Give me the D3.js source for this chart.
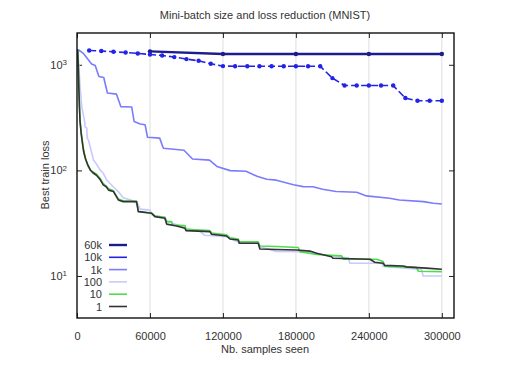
<!DOCTYPE html>
<html>
<head>
<meta charset="utf-8">
<script src="https://cdn.jsdelivr.net/npm/d3@7/dist/d3.min.js"></script>
<style>
  body { margin: 0; background: #fff; }
  text { font-family: "Liberation Sans", Arial, sans-serif; fill: #333; }
</style>
</head>
<body>
<script>
// Mini-batch size vs best train loss, log y axis

var xTicks = [0, 60000, 120000, 180000, 240000, 300000];
var yTicks = [10, 100, 1000];

// each series: [samples seen, best train loss]
var batch60k = [[60000, 1340], [120000, 1265], [180000, 1265], [240000, 1265], [300000, 1265]];

var batch10k = [[10000, 1366], [20000, 1349], [30000, 1328], [40000, 1308], [50000, 1280],
  [60000, 1252], [70000, 1225], [80000, 1183], [90000, 1132], [100000, 1091],
  [110000, 1022], [120000, 972], [130000, 968], [140000, 968], [150000, 968],
  [160000, 968], [170000, 968], [180000, 968], [190000, 968], [200000, 968],
  [210000, 748], [220000, 636], [230000, 636], [240000, 636], [250000, 636],
  [260000, 636], [270000, 484], [280000, 456], [290000, 456], [300000, 456]];

var batch1k = [[1000, 1388], [5000, 1290], [12000, 1015], [15000, 985], [18000, 775],
  [22000, 758], [25000, 540], [32500, 527], [36000, 402], [45000, 398], [47000, 290],
  [52000, 275], [56000, 270], [58000, 206], [68000, 202], [71000, 162], [88000, 155],
  [95000, 128], [109000, 125], [115000, 109], [126000, 99.5], [139000, 98], [148000, 88],
  [156000, 82.5], [164000, 80.8], [178000, 73], [186000, 70.2], [194000, 70],
  [202000, 66.3], [213000, 63], [230000, 62], [238000, 57.3], [257000, 54.5],
  [265000, 52.5], [285000, 50.6], [293000, 48.8], [300000, 48]];

var batch100 = [[500, 1400], [1500, 1000], [2500, 622], [3900, 402], [6500, 282],
  [6600, 260], [8000, 251], [8500, 200], [9300, 195], [10700, 170], [12100, 146],
  [13400, 126], [16000, 115], [18900, 101], [21600, 94], [24400, 81], [29800, 70],
  [33900, 63], [38000, 55], [45000, 52], [50000, 48], [52000, 43], [60000, 42],
  [62000, 37.5], [72000, 36], [74000, 33], [88000, 29], [90000, 28], [100000, 27],
  [105000, 24.3], [115000, 24], [123000, 23.5], [126000, 22.5], [133000, 21],
  [149000, 20.5], [151000, 18.8], [164000, 17.1], [183000, 17.0], [197000, 16.4],
  [209000, 15.4], [223000, 14.9], [224400, 13.2], [250400, 13.2], [251700, 12.3],
  [283300, 11.5], [284600, 10.0], [300000, 10.0]];

var batch10 = [[500, 1400], [1000, 1050], [1500, 650], [2000, 420], [2500, 300],
  [3500, 225], [4500, 185], [5500, 155], [7000, 130], [9000, 110], [11000, 100],
  [13000, 97], [16000, 92], [19000, 84], [21600, 75], [24000, 71], [26000, 67],
  [30000, 64], [34000, 53.5], [38000, 51.5], [49000, 51], [50400, 41], [61400, 39.3],
  [64100, 37], [72300, 36], [73700, 32.7], [77800, 32.7], [78500, 30.4], [88800, 30],
  [89600, 27.7], [109300, 26.9], [110700, 25.5], [123000, 24.5], [125800, 23],
  [132600, 22.4], [133400, 21.1], [149000, 21.1], [150400, 19.2], [164100, 19],
  [181900, 18.6], [183300, 17.0], [197000, 16.0], [217600, 15.5], [218900, 14.4],
  [246300, 14.4], [251700, 13.7], [253100, 12.4], [279200, 12.0], [280600, 11.1],
  [300000, 11.0]];

var batch1 = [[500, 1400], [1000, 1000], [1500, 600], [2000, 400], [2500, 290],
  [3500, 220], [4500, 180], [5500, 150], [7000, 128], [9000, 112], [11000, 101],
  [13000, 95], [16000, 90], [19000, 82], [21600, 73], [24000, 70], [26000, 65],
  [30000, 63], [34000, 52.5], [38000, 50.6], [49000, 50.6], [50400, 40.7],
  [61400, 39.3], [64100, 36.5], [72300, 35.2], [73700, 31], [81900, 29.7],
  [88800, 28.3], [89600, 26.9], [109300, 26.3], [110700, 24.8], [123000, 23.9],
  [125800, 22.4], [132600, 21.9], [133400, 20.4], [149000, 20.4], [150400, 18.0],
  [164100, 17.8], [180600, 17.6], [191500, 17.2], [197000, 16.4], [209300, 15.2],
  [210600, 14.7], [240800, 14.4], [244900, 13.5], [251700, 13.2], [253100, 12.6],
  [268200, 12.45], [270900, 12.2], [290100, 11.8], [300000, 11.57]];

var seriesNames = ["60k", "10k", "1k", "100", "10", "1"];
var seriesData = [batch60k, batch10k, batch1k, batch100, batch10, batch1];
var seriesColors = ["#1c1c8c", "#2323e8", "#7b7bff", "#c9c9ff", "#4fdc4f", "#333333"];

var width = 516, height = 373;
var plot = {left: 77, right: 454, top: 33, bottom: 318};

var svg = d3.select("body").append("svg")
    .attr("width", width)
    .attr("height", height);

var x = d3.scaleLinear().domain([0, 310000]).range([plot.left, plot.right]);
var y = d3.scaleLog().domain([4, 2000]).range([plot.bottom, plot.top]);

// vertical grid
svg.append("g").selectAll("line")
    .data(xTicks.slice(1))
    .enter().append("line")
    .attr("x1", function(d) { return x(d); })
    .attr("x2", function(d) { return x(d); })
    .attr("y1", plot.top)
    .attr("y2", plot.bottom)
    .style("stroke", "#e6e6e6")
    .style("stroke-width", 1.3);

// axes (ticks pointing inward)
var xAxis = svg.append("g")
    .attr("transform", "translate(0," + plot.bottom + ")")
    .call(d3.axisBottom(x).tickValues(xTicks).tickSize(-5).tickPadding(14).tickFormat(d3.format("d")));
svg.append("g")
    .attr("transform", "translate(0," + plot.top + ")")
    .call(d3.axisTop(x).tickValues(xTicks).tickSize(-5).tickFormat(""));
var yAxis = svg.append("g")
    .attr("transform", "translate(" + plot.left + ",0)")
    .call(d3.axisLeft(y).tickValues(yTicks).tickSize(-5).tickPadding(10));
svg.append("g")
    .attr("transform", "translate(" + plot.right + ",0)")
    .call(d3.axisRight(y).tickValues(yTicks).tickSize(-5).tickFormat(""));

svg.selectAll(".domain").remove();
svg.selectAll(".tick line").style("stroke", "#222").style("stroke-width", 1);
svg.selectAll(".tick text").style("font-size", "11px").style("fill", "#333")
    .style("font-family", "'Liberation Sans', Arial, sans-serif");

// 10^n labels with superscript
yAxis.selectAll(".tick text").each(function(d) {
  var t = d3.select(this).text("");
  t.append("tspan").text("10");
  t.append("tspan").attr("dy", "-0.45em").style("font-size", "8px").text(Math.round(Math.log10(d)));
});

var line = d3.line()
    .x(function(d) { return x(d[0]); })
    .y(function(d) { return y(d[1]); });

var clip = svg.append("clipPath").attr("id", "clip").append("rect")
    .attr("x", plot.left).attr("y", plot.top)
    .attr("width", plot.right - plot.left).attr("height", plot.bottom - plot.top);

var g = svg.append("g").attr("clip-path", "url(#clip)");

seriesData.forEach(function(data, i) {
  var path = g.append("path")
      .datum(data)
      .attr("d", line)
      .style("fill", "none")
      .style("stroke", seriesColors[i])
      .style("stroke-width", i === 0 ? 2.4 : 1.6)
      .style("stroke-linejoin", "round");
  if (i === 1) path.style("stroke-dasharray", "7,3");
  if (i < 2) {
    g.selectAll(".pt" + i)
        .data(data)
        .enter().append("circle")
        .attr("cx", function(d) { return x(d[0]); })
        .attr("cy", function(d) { return y(d[1]); })
        .attr("r", 2.2)
        .style("fill", seriesColors[i]);
  }
});

// legend
var legend = svg.append("g");
seriesNames.forEach(function(name, i) {
  var ly = 245 + i * 12.3;
  legend.append("text")
      .attr("x", 102)
      .attr("y", ly + 4)
      .style("text-anchor", "end")
      .style("font-size", "11px")
      .text(name);
  legend.append("line")
      .attr("x1", 109).attr("x2", 127)
      .attr("y1", ly).attr("y2", ly)
      .style("stroke", seriesColors[i])
      .style("stroke-width", i === 0 ? 2.4 : 1.6);
});

// frame
svg.append("rect")
    .attr("x", plot.left).attr("y", plot.top)
    .attr("width", plot.right - plot.left).attr("height", plot.bottom - plot.top)
    .style("fill", "none")
    .style("stroke", "#111")
    .style("stroke-width", 1.4);

// titles
svg.append("text")
    .attr("x", 265).attr("y", 19)
    .style("text-anchor", "middle")
    .style("font-size", "11px")
    .text("Mini-batch size and loss reduction (MNIST)");

svg.append("text")
    .attr("x", 265).attr("y", 353)
    .style("text-anchor", "middle")
    .style("font-size", "11px")
    .text("Nb. samples seen");

svg.append("text")
    .attr("transform", "translate(49,175) rotate(-90)")
    .style("text-anchor", "middle")
    .style("font-size", "11px")
    .text("Best train loss");
</script>
</body>
</html>
